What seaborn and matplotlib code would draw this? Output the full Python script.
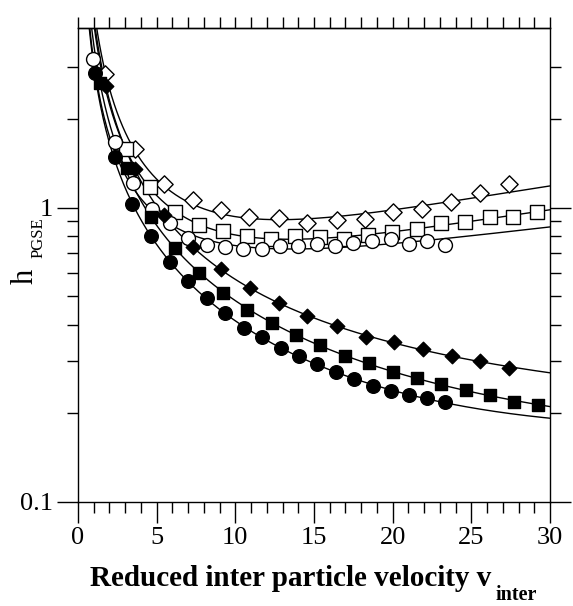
import numpy as np
import pandas as pd
import matplotlib
matplotlib.use("Agg")
import matplotlib.pyplot as plt
import seaborn as sns
from matplotlib.ticker import FixedLocator, NullFormatter, FixedFormatter

# ---------------- data ----------------
open_diamond_x = [1.70, 3.60, 5.45, 7.29, 9.07, 10.85, 12.76, 14.54, 16.45, 18.23, 20.01, 21.85, 23.70, 25.54, 27.38]
open_diamond_y = [2.84, 1.58, 1.205, 1.064, 0.977, 0.925, 0.918, 0.883, 0.904, 0.911, 0.969, 0.985, 1.048, 1.124, 1.205]

open_square_x = [3.03, 4.56, 6.15, 7.67, 9.20, 10.72, 12.25, 13.78, 15.37, 16.89, 18.42, 19.94, 21.53, 23.06, 24.58, 26.17, 27.63, 29.16]
open_square_y = [1.58, 1.177, 0.962, 0.869, 0.830, 0.798, 0.780, 0.798, 0.792, 0.780, 0.804, 0.823, 0.843, 0.883, 0.890, 0.925, 0.932, 0.969]

open_circle_x = [0.93, 2.33, 3.48, 4.68, 5.83, 6.97, 8.18, 9.33, 10.47, 11.68, 12.82, 13.97, 15.18, 16.32, 17.46, 18.67, 19.88, 21.02, 22.17, 23.31]
open_circle_y = [3.19, 1.67, 1.215, 0.985, 0.883, 0.786, 0.744, 0.733, 0.721, 0.721, 0.738, 0.738, 0.750, 0.738, 0.756, 0.767, 0.780, 0.750, 0.767, 0.744]

filled_diamond_x = [1.77, 3.60, 5.45, 7.29, 9.07, 10.92, 12.76, 14.54, 16.45, 18.29, 20.07, 21.92, 23.76, 25.54, 27.38]
filled_diamond_y = [2.58, 1.354, 0.940, 0.733, 0.617, 0.532, 0.474, 0.428, 0.396, 0.364, 0.350, 0.331, 0.314, 0.300, 0.286]

filled_square_x = [1.38, 3.10, 4.62, 6.15, 7.67, 9.20, 10.72, 12.31, 13.84, 15.37, 16.96, 18.48, 20.01, 21.53, 23.06, 24.65, 26.17, 27.70, 29.22]
filled_square_y = [2.64, 1.365, 0.932, 0.727, 0.598, 0.512, 0.449, 0.406, 0.369, 0.342, 0.314, 0.297, 0.277, 0.264, 0.252, 0.241, 0.230, 0.219, 0.213]

filled_circle_x = [1.06, 2.33, 3.42, 4.62, 5.83, 6.97, 8.18, 9.33, 10.54, 11.68, 12.89, 14.03, 15.18, 16.38, 17.53, 18.73, 19.88, 21.02, 22.17, 23.31]
filled_circle_y = [2.86, 1.487, 1.024, 0.798, 0.652, 0.562, 0.493, 0.438, 0.390, 0.364, 0.334, 0.314, 0.295, 0.277, 0.262, 0.247, 0.239, 0.230, 0.225, 0.219]

x_ticks = [0, 5, 10, 15, 20, 25, 30]
y_ticks = [0.1, 1]
y_tick_labels = ["0.1", "1"]

# (name, x, y, marker, face colour, marker size, fit terms)
series = [
    ("open diamond", open_diamond_x, open_diamond_y, "D", "white", 8.8, 3),
    ("open square", open_square_x, open_square_y, "s", "white", 9.5, 3),
    ("open circle", open_circle_x, open_circle_y, "o", "white", 10.0, 3),
    ("filled diamond", filled_diamond_x, filled_diamond_y, "D", "black", 7.4, 4),
    ("filled square", filled_square_x, filled_square_y, "s", "black", 9.2, 4),
    ("filled circle", filled_circle_x, filled_circle_y, "o", "black", 9.8, 4),
]

# ---------------- style ----------------
sns.set_theme(style="ticks")
plt.rcParams["font.family"] = ["Liberation Serif", "DejaVu Serif"]
plt.rcParams["axes.linewidth"] = 1.0

W, H = 573, 606
fig = plt.figure(figsize=(W / 100, H / 100), dpi=100)
L, R, T, B = 78, 550, 28, 502
ax = fig.add_axes([L / W, 1 - B / H, (R - L) / W, (B - T) / H])
ax.set_facecolor("white")


def basis(v, nterms):
    cols = [1 / v, np.ones_like(v), v]
    if nterms == 4:
        cols.append(1 / np.sqrt(v))
    return np.column_stack(cols)


def fit_curve(xv, yv, nterms):
    xv = np.asarray(xv, float)
    yv = np.asarray(yv, float)
    M = basis(xv, nterms)
    coef, *_ = np.linalg.lstsq(M / yv[:, None], np.ones_like(yv), rcond=None)
    xs = np.linspace(0.6, 30, 500)
    ys = basis(xs, nterms) @ coef
    return xs, ys


for name, xv, yv, mk, fc, ms, nt in series:
    xs, ys = fit_curve(xv, yv, nt)
    sns.lineplot(x=xs, y=ys, ax=ax, color="black", linewidth=1.0, sort=False, zorder=2)
for name, xv, yv, mk, fc, ms, nt in series:
    df = pd.DataFrame({"x": xv, "y": yv})
    sns.scatterplot(data=df, x="x", y="y", ax=ax, marker=mk, s=ms ** 2,
                    facecolor=fc, edgecolor="black", linewidth=1.0, zorder=3)

ax.set_yscale("log")
ax.set_xlim(0, 30)
ax.set_ylim(0.1, 4.07)

ax.xaxis.set_major_locator(FixedLocator(x_ticks))
ax.xaxis.set_minor_locator(FixedLocator(np.arange(0, 31, 1)))
ax.yaxis.set_major_locator(FixedLocator(y_ticks))
ax.yaxis.set_major_formatter(FixedFormatter(y_tick_labels))
ax.yaxis.set_minor_locator(FixedLocator([0.2, 0.3, 0.4, 0.5, 0.6, 0.7, 0.8, 0.9, 2, 3]))
ax.yaxis.set_minor_formatter(NullFormatter())

ax.tick_params(axis="both", which="major", direction="out", length=15, width=1.0,
               colors="black", labelsize=19, pad=3)
ax.tick_params(axis="both", which="minor", direction="out", length=8, width=1.0, colors="black")
ax.tick_params(axis="y", which="both", right=True, left=True)
ax.tick_params(axis="x", which="both", top=False)

top = ax.secondary_xaxis("top")
top.xaxis.set_major_locator(FixedLocator(np.arange(0, 31, 1)))
top.xaxis.set_major_formatter(NullFormatter())
top.tick_params(direction="out", length=8, width=1.0, colors="black")

for s in ax.spines.values():
    s.set_visible(True)
    s.set_color("black")

ax.set_xlabel("")
ax.set_ylabel("")

fig.text(90 / W, 1 - 586 / H, "Reduced inter particle velocity v", fontsize=21,
         fontweight="bold", ha="left", va="baseline", color="black")
fig.text(496 / W, 1 - 600 / H, "inter", fontsize=14.5, fontweight="bold",
         ha="left", va="baseline", color="black")

fig.text(33 / W, 1 - 284 / H, "h", fontsize=22, rotation=90, rotation_mode="anchor",
         ha="left", va="baseline", color="black")
fig.text(43 / W, 1 - 258 / H, "PGSE", fontsize=12, rotation=90, rotation_mode="anchor",
         ha="left", va="baseline", color="black")

fig.savefig("out.png", dpi=100, facecolor="white")
